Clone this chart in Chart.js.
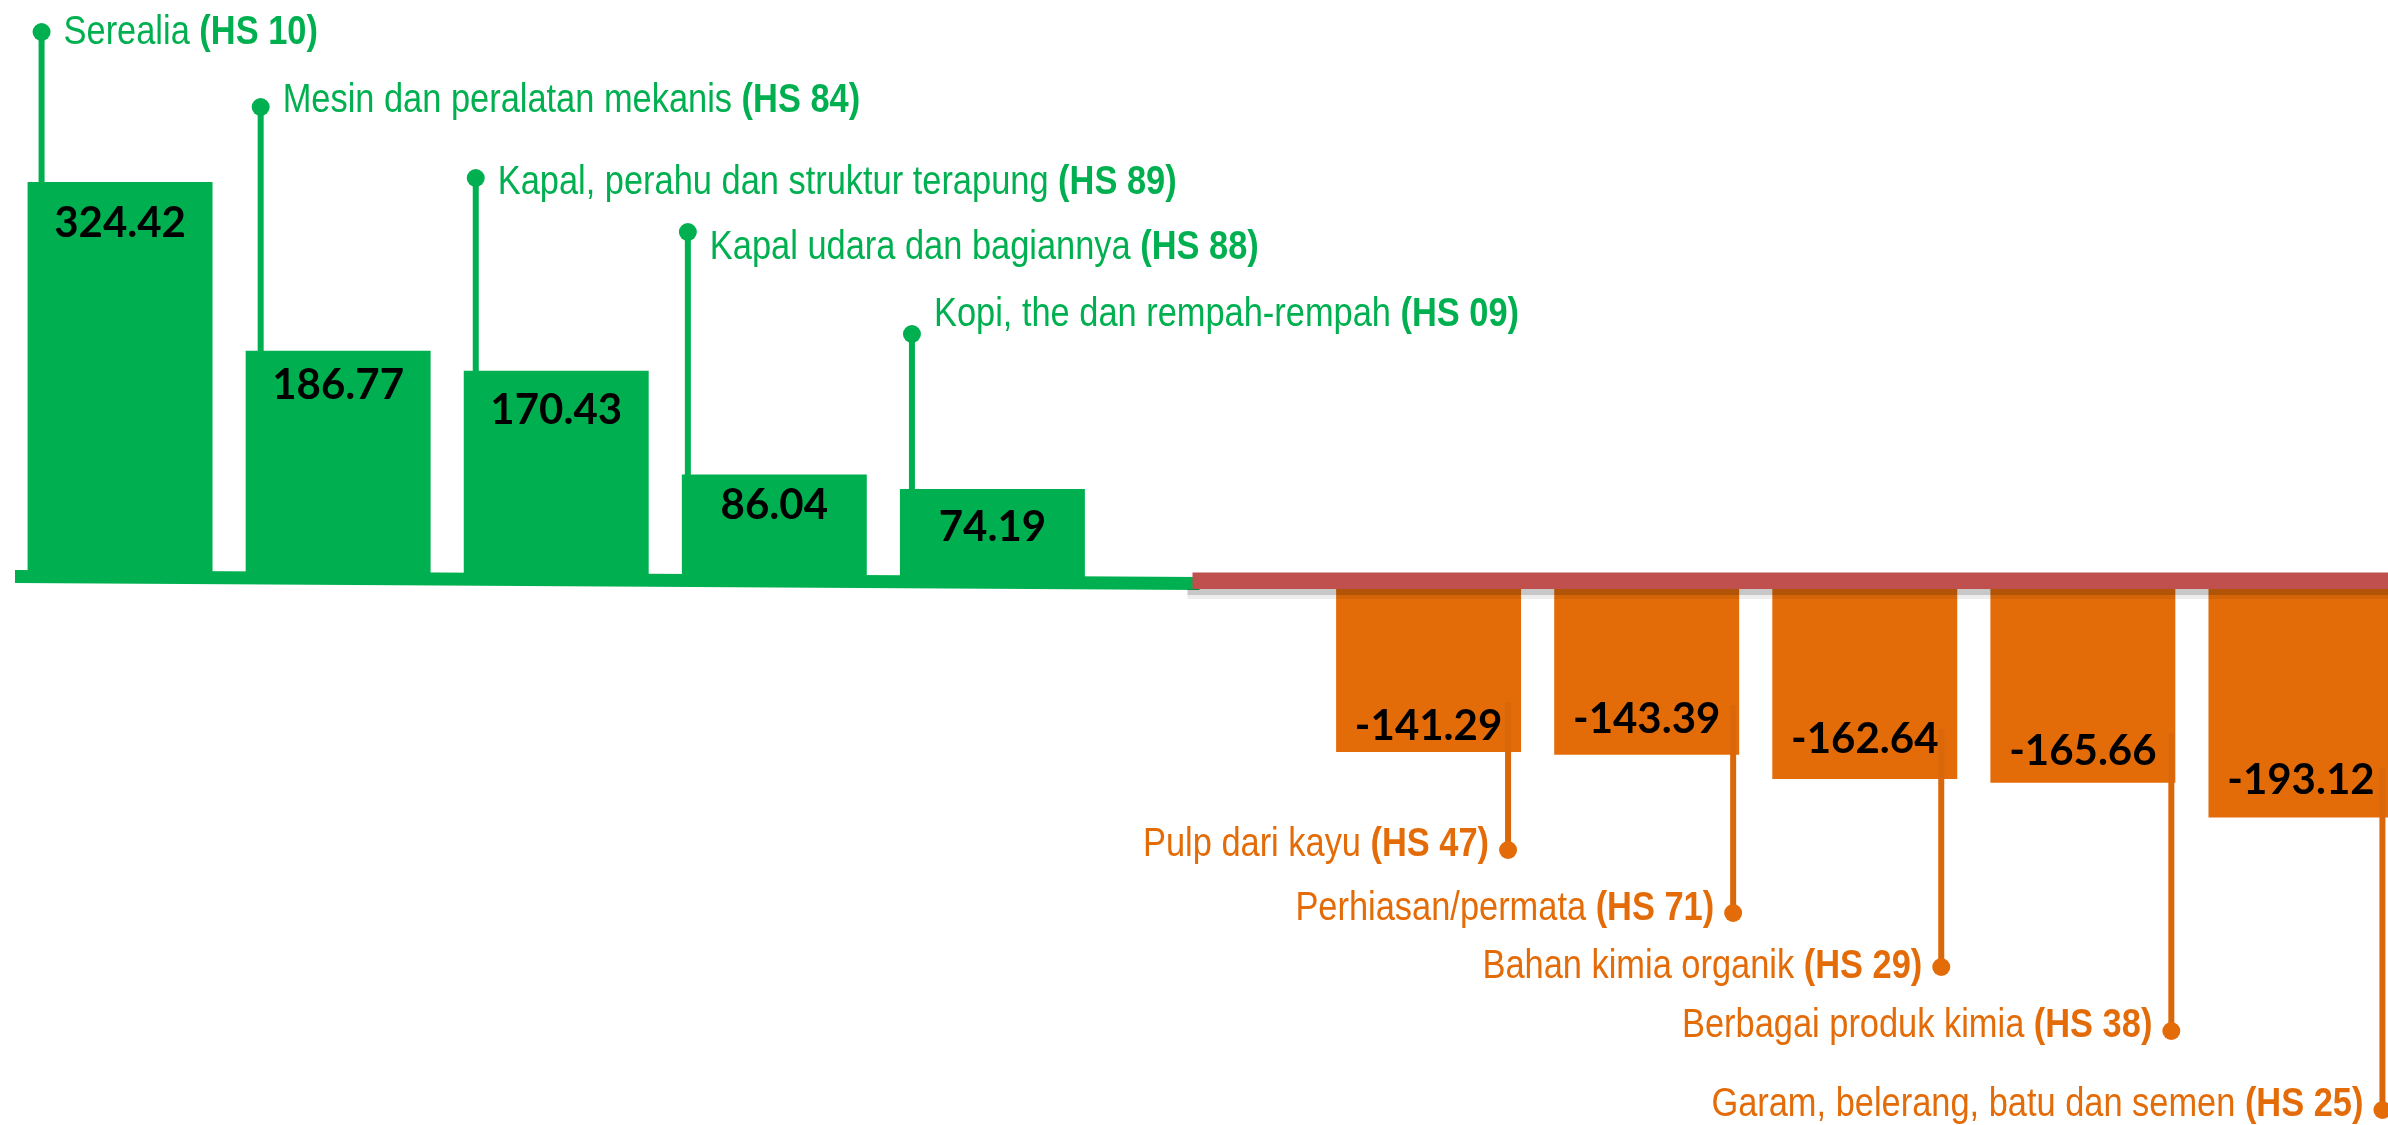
<!DOCTYPE html>
<html>
<head>
<meta charset="utf-8">
<script src="https://cdn.jsdelivr.net/npm/chart.js@4.4.1/dist/chart.umd.min.js"></script>
<style>
  html, body { margin: 0; padding: 0; background: #ffffff; overflow: hidden; }
  #wrap { width: 2410px; height: 1125px; }
</style>
</head>
<body>
<div id="wrap"><canvas id="tradeChart" width="2410" height="1125"></canvas></div>
<script>
// data: surplus (green) and deficit (orange) by commodity
const categories = ['Serealia', 'Mesin dan peralatan mekanis', 'Kapal, perahu dan struktur terapung', 'Kapal udara dan bagiannya', 'Kopi, the dan rempah-rempah', '', 'Pulp dari kayu', 'Perhiasan/permata', 'Bahan kimia organik', 'Berbagai produk kimia', 'Garam, belerang, batu dan semen'];
const hsCodes = ['HS 10', 'HS 84', 'HS 89', 'HS 88', 'HS 09', '', 'HS 47', 'HS 71', 'HS 29', 'HS 38', 'HS 25'];
const surplusValues = [324.42, 186.77, 170.43, 86.04, 74.19, null, null, null, null, null, null];
const deficitValues = [null, null, null, null, null, null, -141.29, -143.39, -162.64, -165.66, -193.12];

// layout of the callout labels (canvas px)
const labelTextY = [30, 98, 180, 245, 312, null, 842, 906, 964, 1023, 1102];
const labelDotY = [32, 107, 178, 232, 334, null, 850, 913, 967, 1031, 1110];
const dotInset = [14, 15, 12, 6, 12, null, 13, 6, 16, 4, 11];
// distance of the value text from the bar end
const valueInset = [40, 33.5, 38.5, 30, 37, null, 27, 37, 41, 33, 39];

const green = '#00B050';
const orange = '#E36C09';
const red = '#C0504D';
const labelFont = '"Liberation Sans", Arial, sans-serif';
const valueFont = 'Lato, "Open Sans", sans-serif';

function drawCallout(ctx, x, capMidY, name, code, color, align) {
  const sx = 0.86; // narrow look of the original font
  ctx.save();
  ctx.translate(x, capMidY + 14.3);
  ctx.scale(sx, 1);
  ctx.fillStyle = color;
  ctx.textBaseline = 'alphabetic';
  ctx.textAlign = 'left';
  ctx.font = '40px ' + labelFont;
  const part1 = name + ' ';
  const w1 = ctx.measureText(part1).width;
  ctx.font = 'bold 40px ' + labelFont;
  const part2 = '(' + code + ')';
  const w2 = ctx.measureText(part2).width;
  const start = align === 'left' ? 0 : -(w1 + w2);
  ctx.font = '40px ' + labelFont;
  ctx.fillText(part1, start, 0);
  ctx.font = 'bold 40px ' + labelFont;
  ctx.fillText(part2, start + w1, 0);
  ctx.restore();
}

const calloutPlugin = {
  id: 'callouts',
  afterDatasetsDraw(chart) {
    const ctx = chart.ctx;
    const xs = chart.scales.x;
    const zeroG = chart.scales.y.getPixelForValue(0);
    const zeroO = chart.scales.y2.getPixelForValue(0);
    const split = xs.getPixelForValue(5) - 18;
    const right = chart.width;

    // green base line, slightly tilted
    ctx.save();
    ctx.fillStyle = green;
    ctx.beginPath();
    ctx.moveTo(15, zeroG - 10);
    ctx.lineTo(split + 7, zeroG - 3);
    ctx.lineTo(split + 7, zeroG + 10);
    ctx.lineTo(15, zeroG + 3);
    ctx.closePath();
    ctx.fill();

    // red base line with soft shadow
    ctx.fillStyle = 'rgba(0,0,0,0.22)';
    ctx.fillRect(split - 5, zeroO + 15.5, right, 6);
    ctx.fillStyle = 'rgba(0,0,0,0.07)';
    ctx.fillRect(split - 5, zeroO + 21.5, right, 4);
    ctx.fillStyle = red;
    ctx.fillRect(split, zeroO - 1, right, 16.5);
    ctx.restore();

    const metaG = chart.getDatasetMeta(0);
    const metaO = chart.getDatasetMeta(1);

    categories.forEach((name, i) => {
      if (!name) return;
      const isUp = surplusValues[i] !== null;
      const bar = isUp ? metaG.data[i] : metaO.data[i];
      const color = isUp ? green : orange;
      const value = isUp ? surplusValues[i] : deficitValues[i];
      const half = bar.width / 2;

      ctx.save();
      ctx.strokeStyle = isUp ? color : '#DA680A';
      ctx.lineWidth = 6;
      ctx.fillStyle = color;
      let dotX;
      if (isUp) {
        dotX = bar.x - half + dotInset[i];
        ctx.beginPath();
        ctx.moveTo(dotX, labelDotY[i]);
        ctx.lineTo(dotX, bar.y + 2);
        ctx.stroke();
      } else {
        dotX = bar.x + half - dotInset[i];
        ctx.beginPath();
        ctx.moveTo(dotX, bar.y - 50);
        ctx.lineTo(dotX, labelDotY[i]);
        ctx.stroke();
      }
      ctx.beginPath();
      ctx.arc(dotX, labelDotY[i], 9, 0, Math.PI * 2);
      ctx.fill();
      ctx.restore();

      if (isUp) {
        drawCallout(ctx, dotX + 22, labelTextY[i], name, hsCodes[i], color, 'left');
      } else {
        drawCallout(ctx, dotX - 19, labelTextY[i], name, hsCodes[i], color, 'right');
      }

      // value inside the bar
      ctx.save();
      ctx.fillStyle = '#000000';
      ctx.font = 'bold 42px ' + valueFont;
      ctx.textAlign = 'center';
      ctx.textBaseline = 'alphabetic';
      const midY = isUp ? bar.y + valueInset[i] : bar.y - valueInset[i];
      ctx.fillText(value.toFixed(2), bar.x, midY + 15);
      ctx.restore();
    });
  }
};

const tradeCtx = document.getElementById('tradeChart').getContext('2d');

new Chart(tradeCtx, {
  type: 'bar',
  data: {
    labels: categories,
    datasets: [{
      label: 'Surplus',
      data: surplusValues,
      backgroundColor: green,
      yAxisID: 'y',
      grouped: false,
      barPercentage: 0.848,
      categoryPercentage: 1.0,
      borderWidth: 0
    }, {
      label: 'Defisit',
      data: deficitValues,
      backgroundColor: orange,
      yAxisID: 'y2',
      grouped: false,
      barPercentage: 0.848,
      categoryPercentage: 1.0,
      borderWidth: 0
    }]
  },
  options: {
    responsive: false,
    animation: false,
    layout: {
      padding: { left: 11, right: 0, top: 0, bottom: 0 }
    },
    plugins: {
      legend: { display: false },
      tooltip: { enabled: false }
    },
    scales: {
      x: { display: false },
      // the two sides of the original are drawn at slightly different scales
      y: { display: false, min: -444.2, max: 472.7 },
      y2: { display: false, min: -436.4, max: 453.8 }
    }
  },
  plugins: [calloutPlugin]
});
</script>
</body>
</html>
